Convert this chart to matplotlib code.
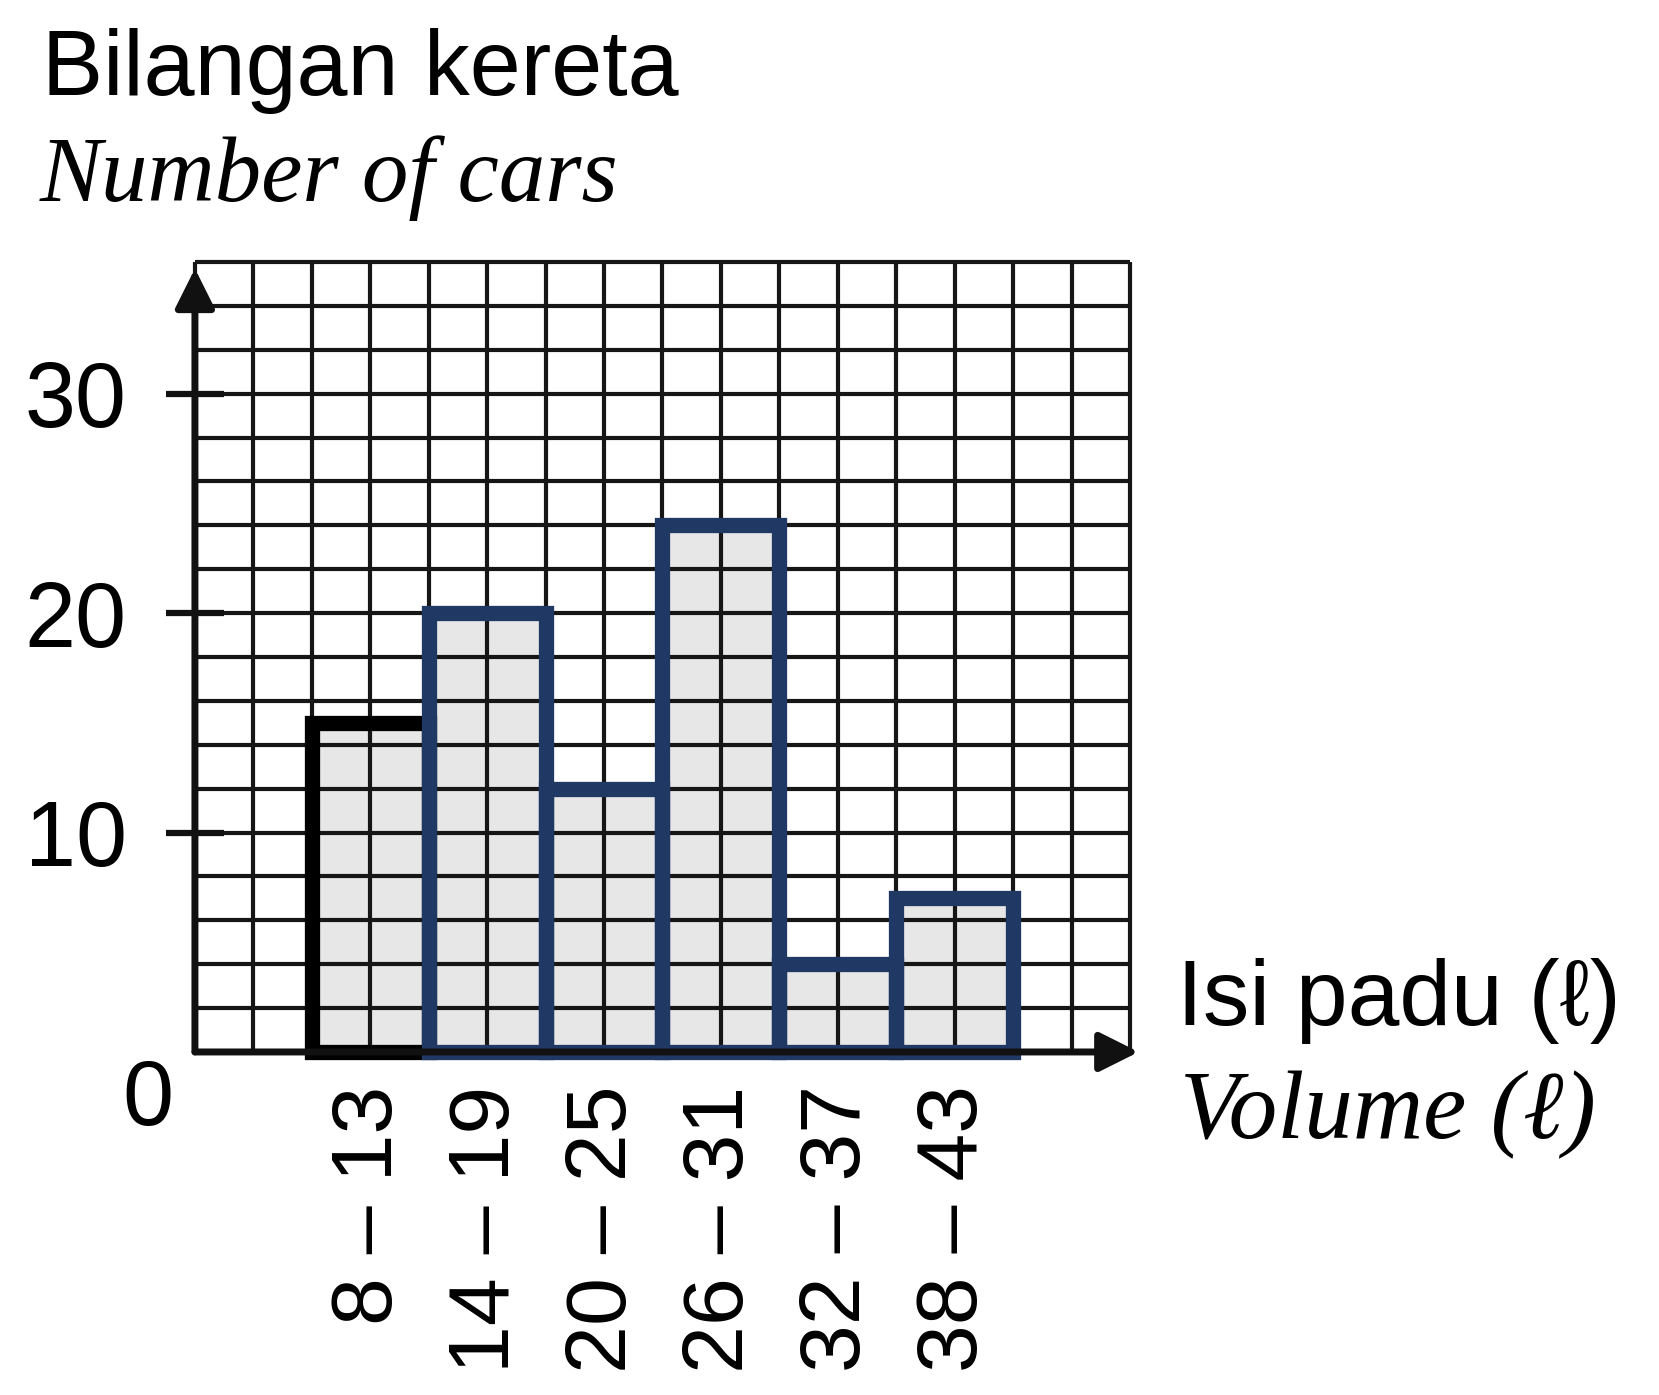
import numpy as np
import matplotlib
matplotlib.use("Agg")
import matplotlib.pyplot as plt

# class intervals (litres) and number of cars
classes = ["8 – 13", "14 – 19", "20 – 25", "26 – 31", "32 – 37", "38 – 43"]
cars = [15, 20, 12, 24, 4, 7]
edge_colors = ["black", "#1f3864", "#1f3864", "#1f3864", "#1f3864", "#1f3864"]
y_ticks = [10, 20, 30]

# grid paper: 16 columns wide, one row = 2 cars, 36 cars high
n_cols = 16
y_top = 36

plt.rcParams['font.family'] = ['Liberation Sans', 'DejaVu Sans']

fig = plt.figure(figsize=(16.59, 13.95), dpi=100)
ax = fig.add_axes([0.1175, 0.2459, 0.5636, 0.5663])

# each class takes two columns, the first class starts at column 2
centers = np.arange(len(cars)) * 2 + 3

# light grey shading under the grid
ax.bar(centers, cars, width=2, color="#e7e7e7", zorder=0.5)

# grid paper lines
grid_kw = dict(color="#161616", lw=3.0, zorder=1, clip_on=False)
ax.vlines(np.arange(0, n_cols + 1), 0, y_top, **grid_kw)
ax.hlines(np.arange(0, y_top + 1, 2), 0, n_cols, **grid_kw)

# thick bar outlines on top
bars = ax.bar(centers, cars, width=2, fill=False, edgecolor=edge_colors,
              linewidth=11, zorder=3)
for b in bars:
    b.set_joinstyle("miter")
    b.set_clip_on(False)

ax.set_xlim(0, n_cols)
ax.set_ylim(0, y_top)
for s in ax.spines.values():
    s.set_visible(False)

# axes with arrow heads
arrow_kw = dict(arrowstyle="-|>,head_length=1.2,head_width=0.6", color="#111111",
                lw=5.0, shrinkA=0, shrinkB=0, mutation_scale=20)
ax.annotate("", xy=(0, 35.7), xytext=(0, 0), arrowprops=arrow_kw,
            annotation_clip=False, zorder=4)
ax.annotate("", xy=(n_cols + 0.15, 0), xytext=(0, 0), arrowprops=arrow_kw,
            annotation_clip=False, zorder=4)

ax.set_yticks(y_ticks)
ax.tick_params(axis="y", direction="inout", length=42, width=4.5, pad=28,
               labelsize=66, color="#111111")
ax.set_xticks(centers, classes, rotation=90)
ax.tick_params(axis="x", length=0, pad=24, labelsize=62)

ax.annotate("0", xy=(0, 0), xytext=(-34, -35), textcoords="offset points",
            ha="center", va="center", fontsize=66, annotation_clip=False)

fig.text(42 / 1659, 1 - 95 / 1395, "Bilangan kereta", fontsize=66, va="baseline")
fig.text(40 / 1659, 1 - 201 / 1395, "Number of cars", fontsize=67,
         family=["Liberation Serif", "DejaVu Serif"], style="italic", va="baseline")
fig.text(1177 / 1659, 1 - 1025 / 1395, "Isi padu (ℓ)", fontsize=67, va="baseline")
fig.text(1180 / 1659, 1 - 1138 / 1395, "Volume (ℓ)", fontsize=70,
         family=["Liberation Serif", "DejaVu Serif"], style="italic", va="baseline")

fig.savefig("out.png", dpi=100)
